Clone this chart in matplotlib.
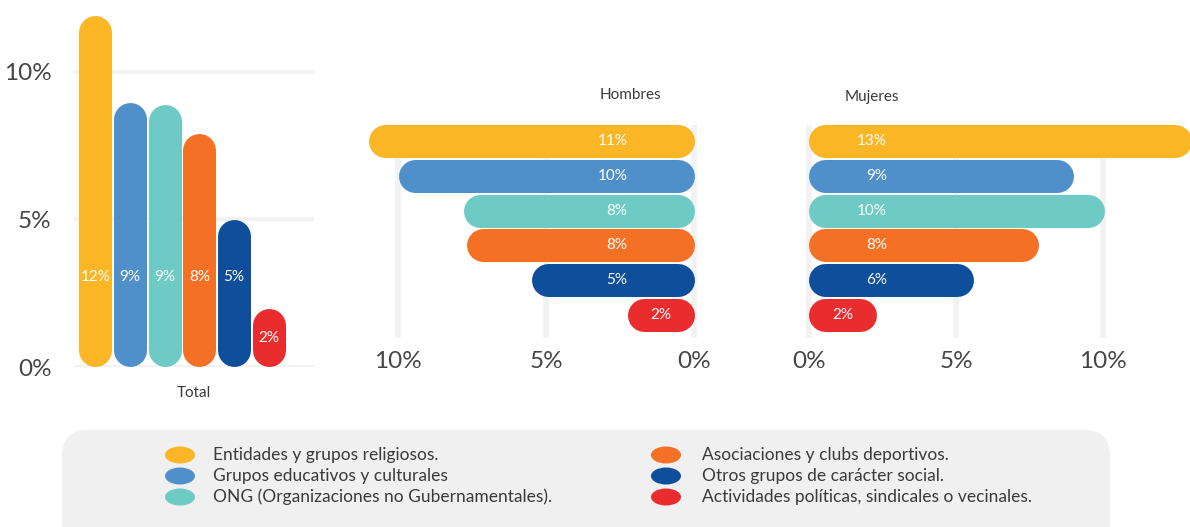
import matplotlib.pyplot as plt
from matplotlib.patches import FancyBboxPatch, Ellipse

plt.rcParams['font.family'] = ['Lato', 'DejaVu Sans']

# datos
categorias = ['Entidades y grupos religiosos.',
              'Grupos educativos y culturales',
              'ONG (Organizaciones no Gubernamentales).',
              'Asociaciones y clubs deportivos.',
              'Otros grupos de carácter social.',
              'Actividades políticas, sindicales o vecinales.']
colores = ['#FBB626', '#4F90CB', '#6DCAC5', '#F37024', '#0F4E9B', '#E92D2F']

total = [11.9, 8.95, 8.9, 7.9, 5.0, 1.97]
total_etiquetas = ['12%', '9%', '9%', '8%', '5%', '2%']
hombres = [11.0, 10.0, 7.8, 7.7, 5.5, 2.25]
hombres_etiquetas = ['11%', '10%', '8%', '8%', '5%', '2%']
mujeres = [13.0, 9.0, 10.05, 7.8, 5.6, 2.3]
mujeres_etiquetas = ['13%', '9%', '10%', '8%', '6%', '2%']

ticks = [0, 5, 10]
tick_labels = ['0%', '5%', '10%']

W, H = 1190, 527
fig = plt.figure(figsize=(W / 100, H / 100), dpi=100)

GRIS_TXT = '#3a3a3a'
GRID = '#f2f2f2'


def px_box(x0, y0, x1, y1):
    # caja en pixeles (origen arriba a la izquierda) -> fracciones de figura
    return [x0 / W, (H - y1) / H, (x1 - x0) / W, (y1 - y0) / H]


# fondo de la leyenda
bg = fig.add_axes([0, 0, 1, 1])
bg.set_xlim(0, W)
bg.set_ylim(H, 0)
bg.axis('off')
bg.set_zorder(-1)
bg.add_patch(FancyBboxPatch((62, 430), 1048, 140,
                            boxstyle='round,pad=0,rounding_size=26',
                            fc='#f0f0f1', ec='none'))

# ---- Total (barras verticales) ----
ax = fig.add_axes(px_box(74, 7, 314, 367))
ax.set_facecolor('none')
ax.set_xlim(-0.62, 6.31)
ax.set_ylim(0, 12.2)
bw_pt = 33 * 0.72
r = 16.5 / 29.5
for i, (v, c, lab) in enumerate(zip(total, colores, total_etiquetas)):
    ax.plot([i, i], [r, v - r], color=c, lw=bw_pt, solid_capstyle='round',
            clip_on=False, zorder=3)
    ax.text(i, 3.05 if v > 3 else v / 2, lab, color='white', fontsize=11,
            ha='center', va='center', zorder=4)
for t in ticks:
    ax.axhline(t, color=GRID, lw=3, zorder=1)
ax.set_yticks(ticks)
ax.set_yticklabels(tick_labels)
ax.set_xticks([])
ax.tick_params(axis='y', length=0, pad=16, labelsize=17.5, labelcolor='#454545')
for s in ax.spines.values():
    s.set_visible(False)
ax.annotate('Total', xy=(0.5, 0), xycoords='axes fraction',
            xytext=(0, -19), textcoords='offset points',
            ha='center', va='center', fontsize=11, color=GRIS_TXT)


def barras_h(ax, valores, etiquetas, ancla):
    bh_pt = 33 * 0.72
    rr = 16.5 / 29.5
    for i, (v, c, lab) in enumerate(zip(valores, colores, etiquetas)):
        ax.plot([rr, v - rr], [i, i], color=c, lw=bh_pt,
                solid_capstyle='round', clip_on=False, zorder=3)
        if v > 3:
            ax.text(ancla, i, lab, color='white', fontsize=11,
                    ha='right', va='center', zorder=4)
        else:
            ax.text(v / 2, i, lab, color='white', fontsize=11,
                    ha='center', va='center', zorder=4)
    for t in ticks:
        ax.axvline(t, color=GRID, lw=4, zorder=1)
    ax.set_xticks(ticks)
    ax.set_xticklabels(tick_labels)
    ax.set_yticks([])
    ax.tick_params(axis='x', length=0, pad=9, labelsize=17.5,
                   labelcolor='#454545')
    ax.set_facecolor('none')
    for s in ax.spines.values():
        s.set_visible(False)


# ---- Hombres ----
axh = fig.add_axes(px_box(380, 125, 700, 338))
axh.set_xlim(10.61, -0.2)
axh.set_ylim(5.66, -0.46)
barras_h(axh, hombres, hombres_etiquetas, 2.26)
axh.text(2.16, 1.14, 'Hombres', transform=axh.get_xaxis_transform(),
         ha='center', va='center', fontsize=11, color=GRIS_TXT)

# ---- Mujeres ----
axm = fig.add_axes(px_box(795, 125, 1190, 338))
axm.set_xlim(-0.476, 12.96)
axm.set_ylim(5.66, -0.46)
barras_h(axm, mujeres, mujeres_etiquetas, 2.65)
axm.text(2.15, 1.13, 'Mujeres', transform=axm.get_xaxis_transform(),
         ha='center', va='center', fontsize=11, color=GRIS_TXT)

# ---- Leyenda ----
filas_y = [455, 476, 497]
for k, (nombre, c) in enumerate(zip(categorias, colores)):
    col, fila = divmod(k, 3)
    mx = 180 if col == 0 else 666
    tx = 213 if col == 0 else 702
    y = filas_y[fila]
    bg.add_patch(Ellipse((mx, y), 30, 17, fc=c, ec='none'))
    bg.text(tx, y, nombre, ha='left', va='center', fontsize=12.5,
            color=GRIS_TXT)

fig.savefig('out.png', dpi=100)
